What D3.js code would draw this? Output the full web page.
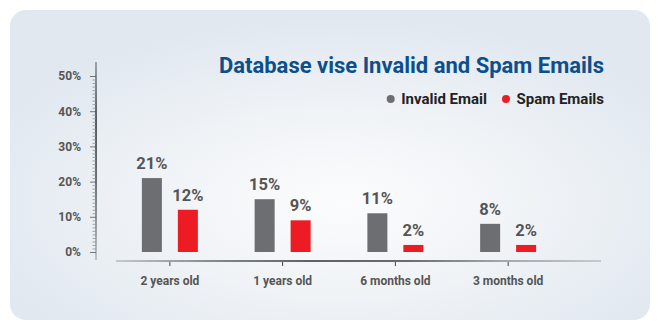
<!DOCTYPE html>
<html><head><meta charset="utf-8">
<script src="https://cdn.jsdelivr.net/npm/d3@7"></script>
<style>html,body{margin:0;padding:0;background:#fff;}svg{display:block;font-family:Roboto,"Open Sans",sans-serif;}</style>
</head><body>
<svg id="c" width="660" height="330"></svg>
<script>
const categories = ["2 years old", "1 years old", "6 months old", "3 months old"];
const invalidEmail = [21, 15, 11, 8];
const spamEmails = [12, 9, 2, 2];
const seriesNames = ["Invalid Email", "Spam Emails"];
const yTicks = [0, 10, 20, 30, 40, 50];

const svg = d3.select("#c");
const defs = svg.append("defs");
const rg = defs.append("radialGradient").attr("id","bg").attr("cx","0.52").attr("cy","0.62").attr("r","0.6");
rg.append("stop").attr("offset","0").attr("stop-color","#fbfcfd");
rg.append("stop").attr("offset","0.45").attr("stop-color","#f1f4f7");
rg.append("stop").attr("offset","1").attr("stop-color","#e1e8f0");
svg.append("rect").attr("x",10).attr("y",10).attr("width",640).attr("height",310).attr("rx",16).attr("fill","url(#bg)");

const xg = defs.append("linearGradient").attr("id","xl").attr("gradientUnits","userSpaceOnUse")
  .attr("x1",116).attr("x2",601).attr("y1",0).attr("y2",0);
[["0","#b5bcc3"],["0.2","#5f6468"],["0.4","#2e3235"],["0.6","#3a3e41"],["0.8","#8a9096"],["1","#b8bec4"]].forEach(s=>xg.append("stop").attr("offset",s[0]).attr("stop-color",s[1]));
const yg = defs.append("linearGradient").attr("id","yl").attr("gradientUnits","userSpaceOnUse")
  .attr("x1",0).attr("x2",0).attr("y1",62).attr("y2",260);
[["0","#8a9096"],["0.3","#2e3235"],["0.6","#4a4f53"],["1","#b0b7be"]].forEach(s=>yg.append("stop").attr("offset",s[0]).attr("stop-color",s[1]));

const y = d3.scaleLinear().domain([0,50]).range([252,76]);
const x = d3.scaleBand().domain(categories).range([113.5,564.5]);
const xs = d3.scaleBand().domain(seriesNames).range([-28,28]).paddingInner(0.444);
const color = d3.scaleOrdinal().domain(seriesNames).range(["#6d6e71","#ed1c24"]);

// y axis
const yAxisG = svg.append("g").attr("transform","translate(96,0)");
yAxisG.append("line").attr("x1",0).attr("x2",0).attr("y1",62).attr("y2",260).attr("stroke","url(#yl)").attr("stroke-width",1.6);
const minor = d3.range(0,51,1);
yAxisG.selectAll(".mt").data(minor).join("line")
  .attr("x1", d=> d%10===0 ? -6 : -3.5).attr("x2",0)
  .attr("y1", d=>y(d)+0.5).attr("y2", d=>y(d)+0.5)
  .attr("stroke", d=> d%10===0 ? "#555" : "#8c9196").attr("stroke-width",0.8);
const yAx = d3.axisLeft(y).tickValues(yTicks).tickFormat(d=>d+"%").tickSize(0).tickPadding(15);
const ya = yAxisG.append("g").call(yAx);
ya.select(".domain").remove();
ya.selectAll("text").attr("font-size",12).attr("font-weight","bold").attr("fill","#555").attr("font-family","Roboto");

// x axis
svg.append("line").attr("x1",116).attr("x2",601).attr("y1",261).attr("y2",261).attr("stroke","url(#xl)").attr("stroke-width",1.6);
const xAx = d3.axisBottom(x).tickSize(4).tickPadding(10);
const xa = svg.append("g").attr("transform","translate(0,262)").call(xAx);
xa.select(".domain").remove();
xa.selectAll("line").attr("stroke","#444");
xa.selectAll("text").attr("font-size",12).attr("font-weight","bold").attr("fill","#555").attr("font-family","Roboto");

// bars
const rows = categories.map((c,i)=>({cat:c, vals:[{s:seriesNames[0],v:invalidEmail[i]},{s:seriesNames[1],v:spamEmails[i]}]}));
const g = svg.selectAll(".grp").data(rows).join("g").attr("transform",d=>`translate(${x(d.cat)+x.bandwidth()/2},0)`);
g.selectAll("rect").data(d=>d.vals).join("rect")
  .attr("x",d=>xs(d.s)).attr("width",xs.bandwidth())
  .attr("y",d=>y(d.v)).attr("height",d=>y(0)-y(d.v)).attr("fill",d=>color(d.s));
g.selectAll("text").data(d=>d.vals).join("text")
  .attr("x",d=>xs(d.s)+xs.bandwidth()/2).attr("y",d=>y(d.v)-9)
  .attr("text-anchor","middle").attr("font-size",16.5).attr("font-weight","bold").attr("fill","#555").text(d=>d.v+"%");

// title
svg.append("text").attr("x",604).attr("y",72.5).attr("text-anchor","end").attr("font-size",22).attr("font-weight","bold")
  .attr("fill","#0d4f8b").text("Database vise Invalid and Spam Emails");

// legend
const legX = [390.7, 506];
const lg = svg.selectAll(".lg").data(seriesNames).join("g").attr("transform",(d,i)=>`translate(${legX[i]},99)`);
lg.append("circle").attr("r",4).attr("fill",d=>color(d));
lg.append("text").attr("x",10.5).attr("y",5.3).attr("font-size",15).attr("font-weight","bold").attr("fill","#222").text(d=>d);
</script>
</body></html>
